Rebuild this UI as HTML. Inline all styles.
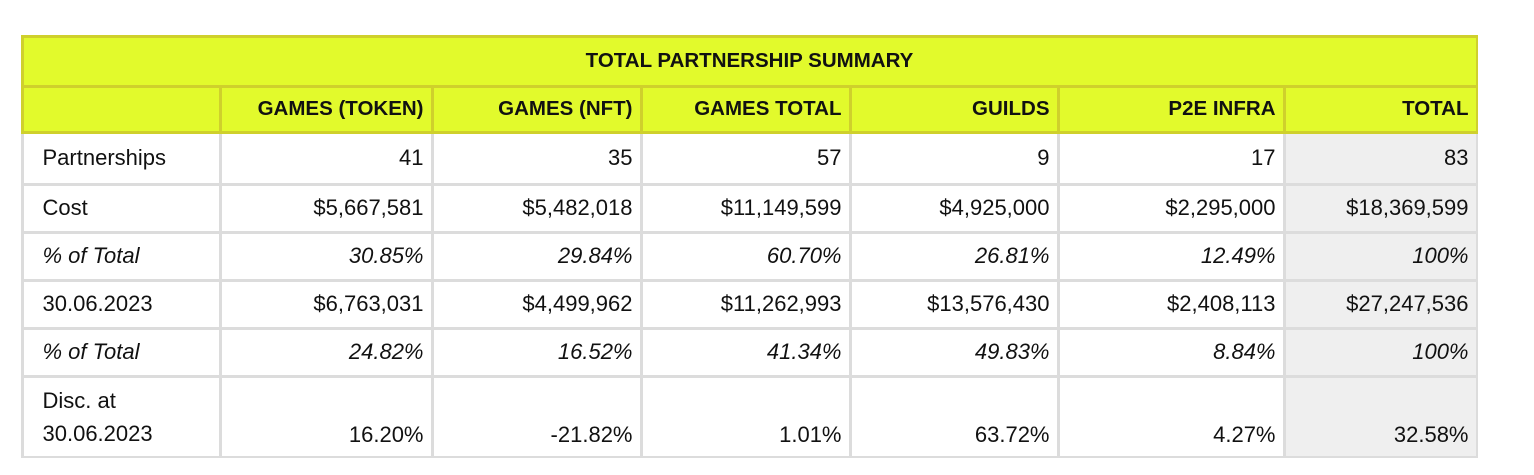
<!DOCTYPE html>
<html><head><meta charset="utf-8">
<style>
body{margin:0;width:1534px;height:475px;background:#fff;position:relative;overflow:hidden;font-family:"Liberation Sans",sans-serif;}
#tbl{position:absolute;left:21px;top:35px;width:1457px;height:423px;background:#dcdcdc;}
#yel{position:absolute;left:21px;top:35px;width:1457px;height:99px;background:#cfd02c;}
.c{position:absolute;box-sizing:border-box;display:flex;align-items:center;justify-content:flex-end;padding:0 7px;font-size:22px;color:#111;white-space:nowrap;}
.y{background:#e2fa2c;font-weight:bold;font-size:20.5px;}
.g{background:#efefef;}
.w{background:#fff;}
.l{justify-content:flex-start;padding-left:19px;}
.i{font-style:italic;}
.b{align-items:flex-end;padding-bottom:8px;}
</style></head><body>
<div id="tbl"></div>
<div id="yel"></div>
<script>
const xs=[22,220,432,641,850,1058,1284,1477];
const ys=[36,86,132,184,232,280,328,376,457];
const headers=["","GAMES (TOKEN)","GAMES (NFT)","GAMES TOTAL","GUILDS","P2E INFRA","TOTAL"];
const rowLabels=["Partnerships","Cost","% of Total","30.06.2023","% of Total","Disc. at<br>30.06.2023"];
const rows=[
["41","35","57","9","17","83"],
["$5,667,581","$5,482,018","$11,149,599","$4,925,000","$2,295,000","$18,369,599"],
["30.85%","29.84%","60.70%","26.81%","12.49%","100%"],
["$6,763,031","$4,499,962","$11,262,993","$13,576,430","$2,408,113","$27,247,536"],
["24.82%","16.52%","41.34%","49.83%","8.84%","100%"],
["16.20%","-21.82%","1.01%","63.72%","4.27%","32.58%"]];
function cell(x0,x1,y0,y1,cls,html){
 const d=document.createElement('div');
 d.className='c '+cls;
 d.style.left=(x0+1.5)+'px';d.style.top=(y0+1.5)+'px';
 d.style.width=(x1-x0-3)+'px';d.style.height=(y1-y0-3)+'px';
 d.innerHTML=html;document.body.appendChild(d);return d;}
let t=cell(xs[0],xs[7],ys[0],ys[1],'y','TOTAL PARTNERSHIP SUMMARY');
t.style.justifyContent='center';


headers.forEach((h,j)=>{
 const d=cell(xs[j],xs[j+1],ys[1],ys[2],'y',h);
 
 
});
rows.forEach((r,i)=>{
 const it=(i==2||i==4)?' i':'';
 const last=i==5;
 const lab=cell(xs[0],xs[1],ys[i+2],ys[i+3],'w l'+it,rowLabels[i]);
 if(last){lab.style.whiteSpace='normal';lab.style.lineHeight='33px';}
 
 
 r.forEach((v,j)=>{
  const d=cell(xs[j+1],xs[j+2],ys[i+2],ys[i+3],(j==5?'g':'w')+it+(last?' b':''),v);
  
  
 });
});
</script>
</body></html>
